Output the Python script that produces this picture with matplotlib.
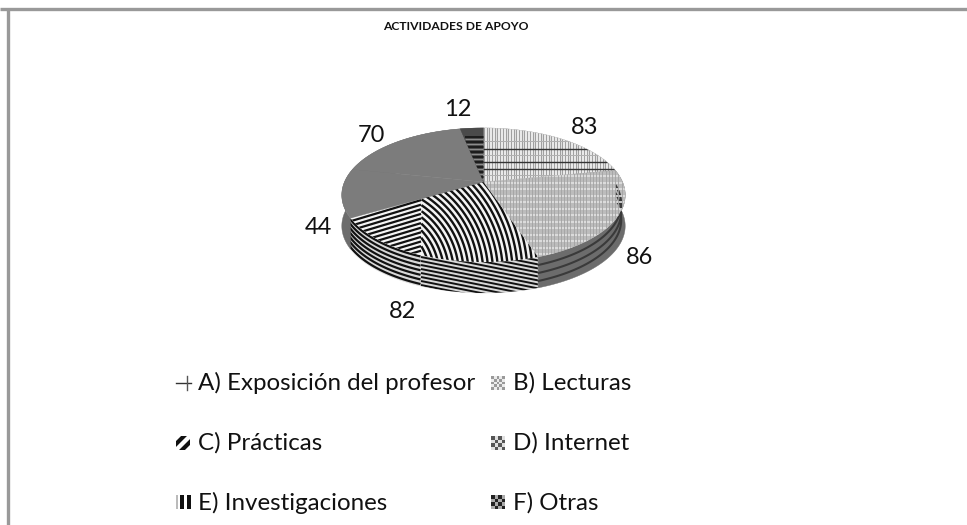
import numpy as np
import matplotlib
matplotlib.use('Agg')
import matplotlib.pyplot as plt
from matplotlib.patches import Rectangle

plt.rcParams['font.family'] = ['Lato', 'DejaVu Sans']

title = 'ACTIVIDADES DE APOYO'
categories = ['A) Exposición del profesor', 'B) Lecturas', 'C) Prácticas',
              'D) Internet', 'E) Investigaciones', 'F) Otras']
values = [83, 86, 82, 44, 70, 12]

top_colors = ['#f4f4f4', '#bcbcbc', '#f4f4f4', '#7c7c7c', '#7c7c7c', '#4a4a4a']
side_colors = ['#6a6a6a', '#6c6c6c', '#d8d8d8', '#6c6c6c', '#6c6c6c', '#555555']
label_pos = [(585, 128), (640, 258), (402, 311), (318, 227), (371, 135), (458, 109)]
legend_pos = [(198, 383), (513, 383), (198, 443), (513, 443), (198, 503), (513, 503)]

# pie geometry, in pixels of the picture
cx, cy = 483.5, 182
rx, ry = 139, 64.5
persp = 0.194
depth = 31

fig = plt.figure(figsize=(9.67, 5.25), dpi=100)
ax = fig.add_axes([0, 0, 1, 1])
ax.set_xlim(0, 967)
ax.set_ylim(525, 0)
ax.axis('off')


def project(t):
    # circle seen in perspective, so the apex sits above the ellipse centre
    k = 1 + persp * np.sin(t)
    return cx + rx * np.cos(t) / k, cy - ry * np.sin(t) / k


def clipped(x, y, patch, color, lw):
    line, = ax.plot(x, y, color=color, lw=lw, solid_capstyle='butt')
    line.set_clip_path(patch)


total = sum(values)
edges = np.cumsum([0] + values) / total * 2 * np.pi
tops = []
sides = []

# walls first, the top faces then hide the back part of them
for i in range(len(values)):
    t = np.pi / 2 - np.linspace(edges[i], edges[i + 1], 120)
    x, y = project(t)
    side = ax.fill(np.r_[x, x[::-1]], np.r_[y, y[::-1] + depth],
                   color=side_colors[i], lw=0.3)[0]
    sides.append(side)

# B wall: dark bands following the rim
tt = np.linspace(-1.25, 0.1, 100)
xx, yy = project(tt)
for off in [9, 17, 25]:
    clipped(xx - 4, yy + off, sides[1], '#3a3a3a', 1.5)

# C wall: black stripes, straight on the right, curved on the left
xs = np.linspace(421, 545, 50)
for y0 in np.arange(205, 320, 4.0):
    clipped(xs, y0 + (xs - 421) * 0.2, sides[2], '#111111', 1.4)
tt = np.linspace(np.pi, 1.5 * np.pi, 100)
xx, yy = project(tt)
xx2 = np.where(xx < 421, xx, np.nan)
for off in np.arange(-40, 40, 4.6):
    clipped(xx2, yy + off, sides[2], '#111111', 1.6)

for i in range(len(values)):
    t = np.pi / 2 - np.linspace(edges[i], edges[i + 1], 120)
    x, y = project(t)
    top = ax.fill(np.r_[cx, x], np.r_[cy, y], color=top_colors[i], lw=0.3)[0]
    tops.append(top)

# A top: fine uprights and a few dark rules
for xv in np.arange(484, 630, 2.7):
    clipped([xv, xv], [120, 200], tops[0], '#a0a0a0', 0.9)
for yh in [149.3, 162.3, 169]:
    clipped([480, 630], [yh, yh], tops[0], '#333333', 1.0)
for yh in [141, 155, 175]:
    clipped([480, 630], [yh, yh], tops[0], '#b0b0b0', 0.7)

# B top: light grey woven look
for yh in np.arange(176, 262, 6.5):
    clipped([480, 630], [yh, yh], tops[1], '#e2e2e2', 1.2)
for xv in np.arange(484, 630, 3.2):
    clipped([xv, xv], [170, 265], tops[1], '#a2a2a2', 0.6)

# C top: arcs on the right of the seam, slanted stripes on the left
a = np.linspace(-1.2, 0.6, 160)
for r in np.arange(30, 170, 4.9):
    xa = 375 + r * np.cos(a)
    ya = 275 + r * np.sin(a)
    clipped(np.where(xa > 421, xa, np.nan), ya, tops[2], '#111111', 1.7)
xs = np.linspace(350, 421, 20)
for y0 in np.arange(180, 275, 4.6):
    clipped(xs, y0 - (xs - 350) * 0.3, tops[2], '#111111', 1.6)

# F top
for yh in np.arange(137, 182, 5):
    clipped([465, 490], [yh, yh], tops[5], '#1c1c1c', 1.4)
    clipped([465, 490], [yh + 2.4, yh + 2.4], tops[5], '#8c8c8c', 0.8)

# frame, only top and left are in the picture
ax.plot([0, 967], [9, 9], color='#999999', lw=2.4, solid_capstyle='butt')
ax.plot([8, 8], [8, 525], color='#999999', lw=2.4, solid_capstyle='butt')

ax.text(456, 26, title, ha='center', va='center', fontsize=8.7, fontweight='bold', color='#111111')

for v, (lx, ly) in zip(values, label_pos):
    ax.text(lx, ly, str(v), ha='center', va='center', fontsize=17, color='#111111')

for name, (lx, ly) in zip(categories, legend_pos):
    ax.text(lx, ly, name, ha='left', va='center', fontsize=17.4, color='#111111')


# legend keys, little swatches of each pattern
def checker(x0, y0, dark, light, n=4, size=3.5):
    for r in range(n):
        for c in range(n):
            col = dark if (r + c) % 2 == 0 else light
            ax.add_patch(Rectangle((x0 + c * size, y0 + r * size), size, size, color=col, lw=0))


ax.plot([176, 191], [383, 383], color='#333333', lw=1)
ax.plot([187, 187], [376, 390], color='#555555', lw=1)
checker(491, 376, '#9a9a9a', '#ececec', n=5, size=2.8)
key_c = ax.add_patch(Rectangle((176, 436), 14, 14, color='#ffffff', lw=0))
for d in [-6, 6]:
    clipped([170 + d, 196 + d], [456, 430], key_c, '#111111', 3.0)
checker(491, 436, '#555555', '#e0e0e0')
ax.add_patch(Rectangle((176, 495), 2, 14, color='#bbbbbb', lw=0))
ax.add_patch(Rectangle((180, 495), 4, 14, color='#111111', lw=0))
ax.add_patch(Rectangle((187, 495), 4, 14, color='#111111', lw=0))
checker(491, 495, '#222222', '#aaaaaa')

plt.savefig('out.png', dpi=100)
